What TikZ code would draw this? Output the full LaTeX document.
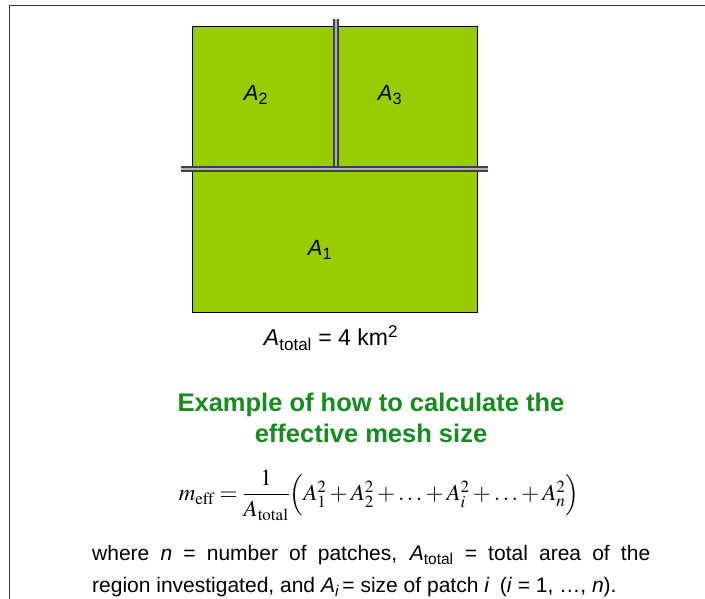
\documentclass[tikz,border=0pt]{standalone}
\usepackage{amsmath}
\usepackage{mathptmx}
\usepackage{fontspec}
\setmainfont{Liberation Sans}
\usepackage{xcolor}
\definecolor{patchgreen}{RGB}{153,204,0}
\definecolor{titlegreen}{RGB}{20,140,30}
\definecolor{roadgray}{RGB}{60,65,70}

\begin{document}
\begin{tikzpicture}[x=1pt, y=1pt,
    patch/.style={draw=black, fill=patchgreen, line width=0.8pt},
    road/.style={draw=roadgray, line width=1.6pt, double=gray!60, double distance=2pt},
    lbl/.style={inner sep=0pt, font=\fontsize{22}{26}\selectfont}]
    \useasboundingbox (0,0) rectangle (705,599);
    % frame
    \draw[line width=1pt, black!80] (705,593) -- (9,593) -- (9,0);
    % patches
    \draw[patch] (192,287) rectangle (477,573);
    \draw[road] (336,430) -- (336,580);
    \draw[road] (181,430) -- (488,430);
    \node[lbl] (a2) at (256,504) {\textit{A}\textsubscript{2}};
    \node[lbl] (a3) at (390,504) {\textit{A}\textsubscript{3}};
    \node[lbl] (a1) at (320,349) {\textit{A}\textsubscript{1}};
    \node[lbl, font=\fontsize{23}{26}\selectfont] (tot) at (331,261)
        {\textit{A}\textsubscript{total} = 4 km\textsuperscript{2}};
    % title
    \node[inner sep=0pt, align=center, text=titlegreen,
        font=\fontsize{25.5}{31}\selectfont\bfseries] (title) at (371,181)
        {Example of how to calculate the\\effective mesh size};
    % formula
    \node[inner sep=0pt, font=\fontsize{23}{27}\selectfont] (meff) at (379,104)
        {$m_{\mathrm{eff}} = \dfrac{1}{A_{\mathrm{total}}}\Bigl(A_1^2 + A_2^2 + \ldots + A_i^2 + \ldots + A_n^2\Bigr)$};
    % explanation
    \node[inner sep=0pt, anchor=north west, text width=558pt, align=justify,
        font=\fontsize{21}{32}\selectfont] (expl) at (92,54)
        {where \textit{n} = number of patches, \textit{A}\textsubscript{total} = total area of the\linebreak region investigated, and \textit{A\textsubscript{i}}\,= size of patch \textit{i}\enspace(\textit{i} = 1, \ldots, \textit{n}).};
\end{tikzpicture}
\end{document}
